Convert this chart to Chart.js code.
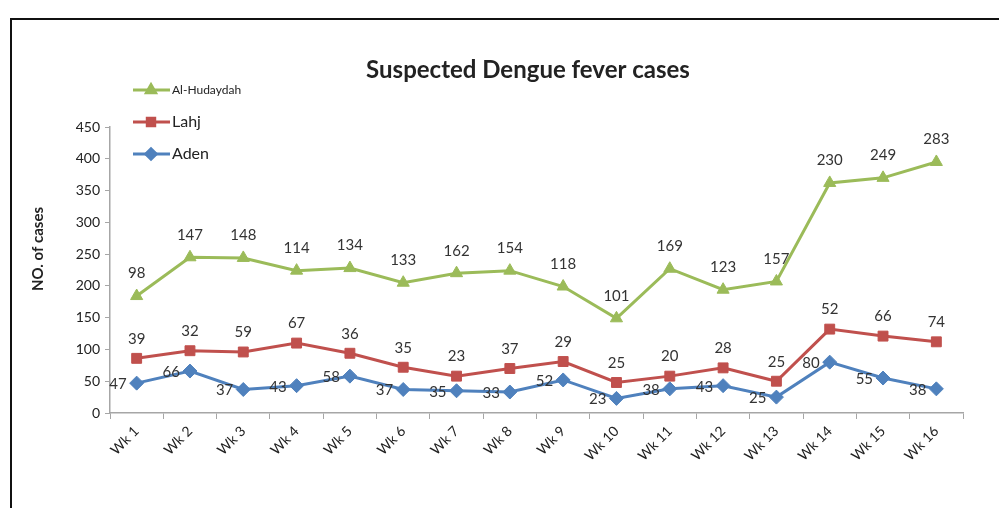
<!DOCTYPE html>
<html>
<head>
<meta charset="utf-8">
<script src="https://cdn.jsdelivr.net/npm/chart.js@4.4.1/dist/chart.umd.min.js"></script>
<style>
  html, body { margin: 0; padding: 0; background: #fff; }
  #wrap { width: 999px; height: 508px; position: relative; }
</style>
</head>
<body>
<div id="wrap"><canvas id="chart" width="999" height="508"></canvas></div>
<script>
// 数据
const weeks = ['Wk 1', 'Wk 2', 'Wk 3', 'Wk 4', 'Wk 5', 'Wk 6', 'Wk 7', 'Wk 8',
  'Wk 9', 'Wk 10', 'Wk 11', 'Wk 12', 'Wk 13', 'Wk 14', 'Wk 15', 'Wk 16'];
const aden = [47, 66, 37, 43, 58, 37, 35, 33, 52, 23, 38, 43, 25, 80, 55, 38];
const lahj = [39, 32, 59, 67, 36, 35, 23, 37, 29, 25, 20, 28, 25, 52, 66, 74];
const hudaydah = [98, 147, 148, 114, 134, 133, 162, 154, 118, 101, 169, 123, 157, 230, 249, 283];
const yTicks = [0, 50, 100, 150, 200, 250, 300, 350, 400, 450];

const FONT = 'Lato, "Open Sans", sans-serif';

// 数据标签 + 图例 + 标题 + 外框
const decor = {
  id: 'decor',
  afterDatasetsDraw(chart) {
    const ctx = chart.ctx;
    ctx.save();
    ctx.font = '15px ' + FONT;
    ctx.fillStyle = '#333';
    chart.data.datasets.forEach((ds, i) => {
      const meta = chart.getDatasetMeta(i);
      meta.data.forEach((pt, j) => {
        const v = ds.data[j];
        if (ds.labelPos === 'left') {
          ctx.textAlign = 'right';
          ctx.textBaseline = 'middle';
          ctx.fillText(v, pt.x - 10, pt.y + 1);
        } else {
          ctx.textAlign = 'center';
          ctx.textBaseline = 'bottom';
          ctx.fillText(v, pt.x, pt.y - ds.labelGap);
        }
      });
    });
    ctx.restore();
  },
  afterDraw(chart) {
    const ctx = chart.ctx;
    ctx.save();
    // 外框
    ctx.strokeStyle = '#111';
    ctx.lineWidth = 2;
    ctx.beginPath();
    ctx.moveTo(11, 508);
    ctx.lineTo(11, 19);
    ctx.lineTo(999, 19);
    ctx.stroke();

    // 标题
    ctx.fillStyle = '#222';
    ctx.font = 'bold 24px ' + FONT;
    ctx.textAlign = 'center';
    ctx.textBaseline = 'middle';
    ctx.fillText('Suspected Dengue fever cases', 528, 70);

    // Y 轴标题
    ctx.save();
    ctx.translate(38, 249);
    ctx.rotate(-Math.PI / 2);
    ctx.font = 'bold 15px ' + FONT;
    ctx.fillText('NO. of cases', 0, 0);
    ctx.restore();

    // 图例
    const items = [
      { ds: 2, y: 90, size: 12 },
      { ds: 1, y: 122, size: 16 },
      { ds: 0, y: 154, size: 16 }
    ];
    items.forEach(it => {
      const ds = chart.data.datasets[it.ds];
      ctx.strokeStyle = ds.borderColor;
      ctx.lineWidth = 3;
      ctx.beginPath();
      ctx.moveTo(133, it.y);
      ctx.lineTo(170, it.y);
      ctx.stroke();
      ctx.fillStyle = ds.borderColor;
      Chart.helpers.drawPoint(ctx, {
        pointStyle: ds.pointStyle, radius: ds.pointRadius * 0.75, rotation: 0, borderWidth: 1
      }, 151, it.y);
      ctx.fillStyle = '#222';
      ctx.font = it.size + 'px ' + FONT;
      ctx.textAlign = 'left';
      ctx.textBaseline = 'middle';
      ctx.fillText(ds.label, 172, it.y);
    });
    ctx.restore();
  }
};

const ctx = document.getElementById('chart').getContext('2d');
new Chart(ctx, {
  type: 'line',
  data: {
    labels: weeks,
    datasets: [
      {
        label: 'Aden', data: aden, borderColor: '#4F81BD', backgroundColor: '#4F81BD',
        pointStyle: 'rectRot', pointRadius: 7, labelPos: 'left'
      },
      {
        label: 'Lahj', data: lahj, borderColor: '#C0504D', backgroundColor: '#C0504D',
        pointStyle: 'rect', pointRadius: 7, labelGap: 12
      },
      {
        label: 'Al-Hudaydah', data: hudaydah, borderColor: '#9BBB59', backgroundColor: '#9BBB59',
        pointStyle: 'triangle', pointRadius: 7, labelGap: 15
      }
    ].map(d => Object.assign({ borderWidth: 3, tension: 0, fill: false, pointBorderWidth: 1 }, d))
  },
  options: {
    responsive: false,
    animation: false,
    layout: { padding: { left: 0, top: 127, right: 36, bottom: 0 } },
    plugins: {
      legend: { display: false },
      title: { display: false },
      tooltip: { enabled: false }
    },
    scales: {
      x: {
        offset: true,
        grid: { display: true, offset: true, drawOnChartArea: false, tickLength: 6, color: '#a6a6a6' },
        border: { color: '#a6a6a6', width: 1.5 },
        ticks: { minRotation: 45, maxRotation: 45, color: '#222', font: { family: FONT, size: 14 }, padding: 4 },
        afterFit(scale) { scale.height = 95; }
      },
      y: {
        stacked: true,
        min: 0,
        max: 450,
        afterBuildTicks(scale) { scale.ticks = yTicks.map(v => ({ value: v })); },
        grid: { display: true, drawOnChartArea: false, tickLength: 5, color: '#a6a6a6' },
        border: { color: '#a6a6a6', width: 1.5 },
        ticks: { color: '#222', font: { family: FONT, size: 14 }, padding: 5 },
        afterFit(scale) { scale.width = 110; }
      }
    }
  },
  plugins: [decor]
});
</script>
</body>
</html>
